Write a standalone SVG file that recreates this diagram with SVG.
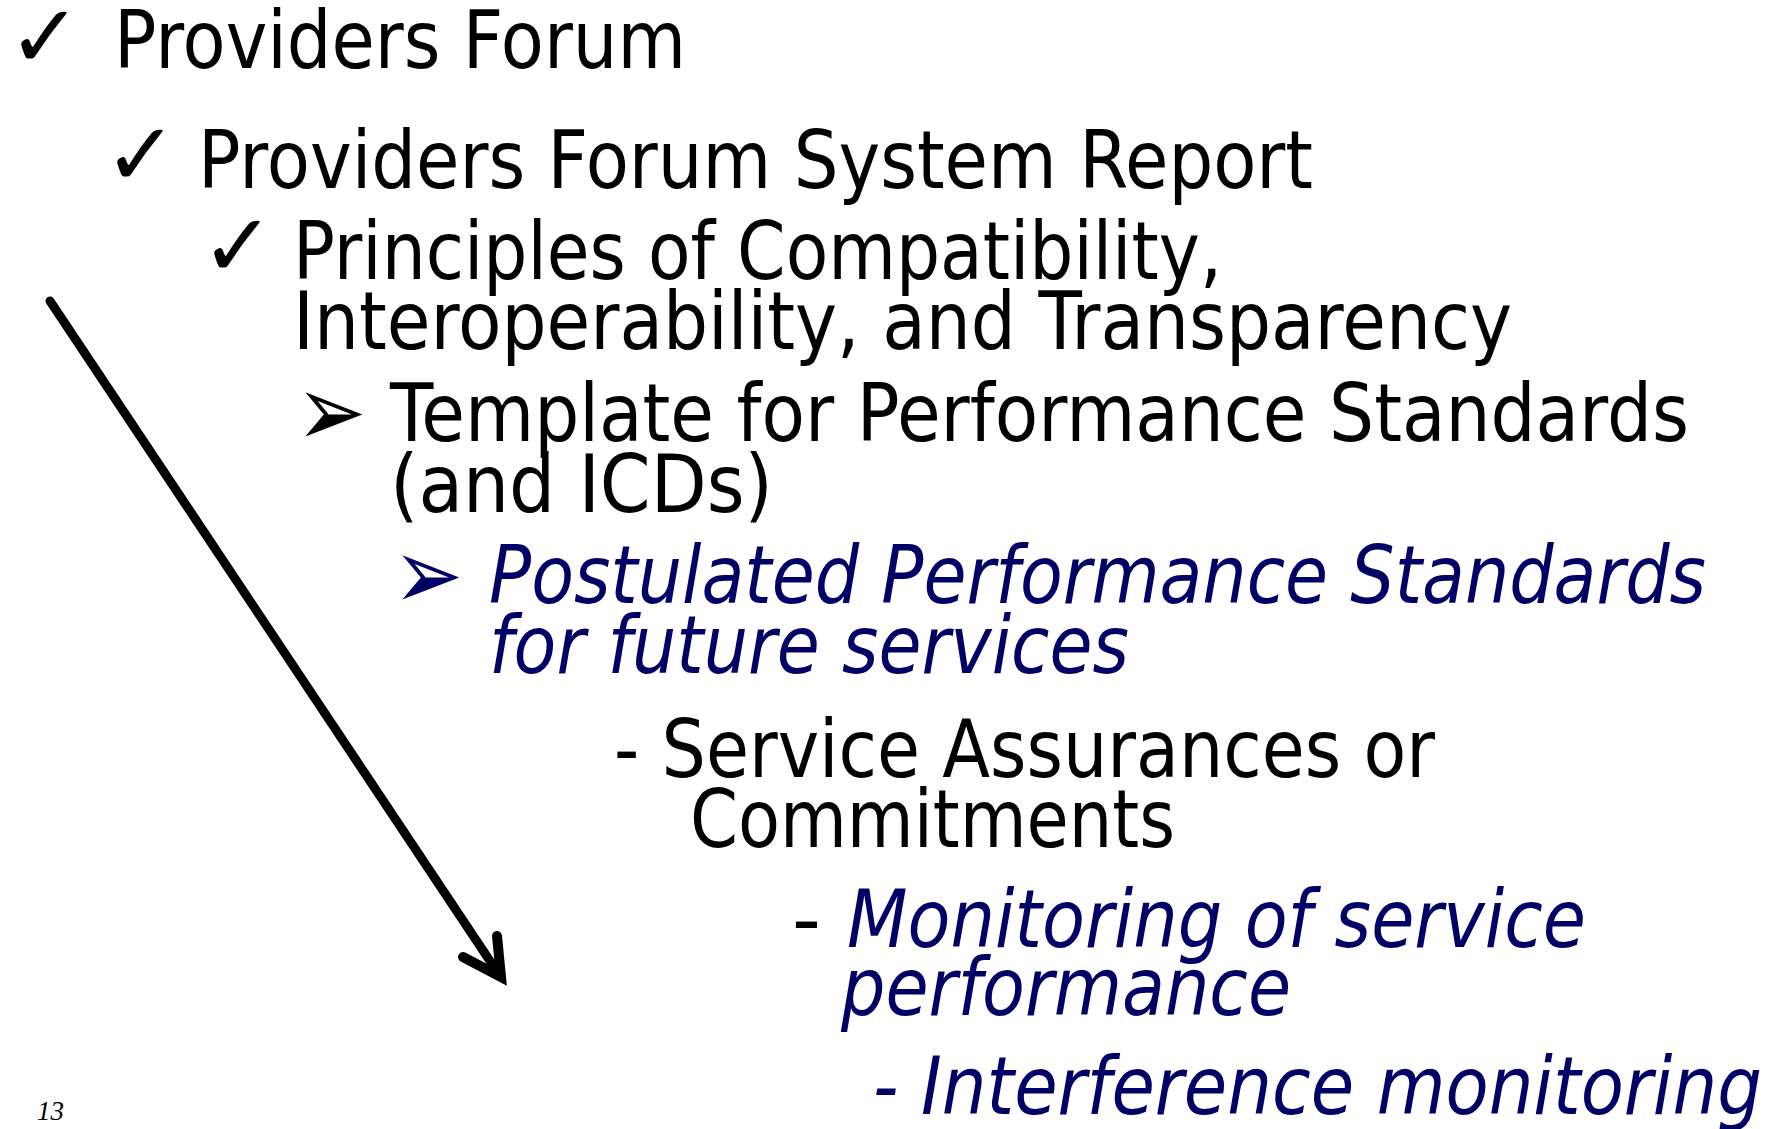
<svg xmlns="http://www.w3.org/2000/svg" width="1783" height="1129" viewBox="0 0 1783 1129">
<style>
.t{font-family:"DejaVu Sans","Liberation Sans",sans-serif;font-size:80px;fill:#000}
.n{font-family:"DejaVu Sans","Liberation Sans",sans-serif;font-size:80px;font-style:italic;fill:#000066}
.chk{font-family:"DejaVu Sans",sans-serif;font-size:88px;font-weight:bold;fill:#000}
.bul{font-family:"DejaVu Sans",sans-serif;font-size:84px}
.pg{font-family:"Liberation Serif",serif;font-style:italic;font-size:27px;fill:#000}
</style>
<rect width="1783" height="1129" fill="#fff"/>
<g id="connectors">
<line x1="50" y1="301" x2="500" y2="976" stroke="#000" stroke-width="9" stroke-linecap="round"/>
<polyline points="463,957 501,977 497,936" fill="none" stroke="#000" stroke-width="10" stroke-linecap="round" stroke-linejoin="miter"/>
</g>
<g id="item1">
<text class="chk" x="8" y="67">✓</text>
<text class="t" x="114" y="68" textLength="572" lengthAdjust="spacingAndGlyphs">Providers Forum</text>
</g>
<g id="item2">
<text class="chk" x="104" y="185">✓</text>
<text class="t" x="198" y="188" textLength="1115" lengthAdjust="spacingAndGlyphs">Providers Forum System Report</text>
</g>
<g id="item3">
<text class="chk" x="201" y="276">✓</text>
<text class="t" x="293" y="279" textLength="929" lengthAdjust="spacingAndGlyphs">Principles of Compatibility,</text>
<text class="t" x="293" y="349" textLength="1219" lengthAdjust="spacingAndGlyphs">Interoperability, and Transparency</text>
</g>
<g id="item4">
<text class="bul" x="296" y="447" fill="#000" transform="translate(0,-90) scale(1,1.2)" style="transform-box:view-box">➢</text>
<text class="t" x="390" y="441" textLength="1299" lengthAdjust="spacingAndGlyphs">Template for Performance Standards</text>
<text class="t" x="390" y="512" textLength="383" lengthAdjust="spacingAndGlyphs">(and ICDs)</text>
</g>
<g id="item5">
<text class="bul" x="393" y="609" fill="#000066" transform="translate(0,-122) scale(1,1.2)">➢</text>
<text class="n" x="489" y="603" textLength="1217" lengthAdjust="spacingAndGlyphs">Postulated Performance Standards</text>
<text class="n" x="489" y="673" textLength="640" lengthAdjust="spacingAndGlyphs">for future services</text>
</g>
<g id="item6">
<text class="t" x="614" y="777" textLength="821" lengthAdjust="spacingAndGlyphs">- Service Assurances or</text>
<text class="t" x="690" y="847" textLength="485" lengthAdjust="spacingAndGlyphs">Commitments</text>
</g>
<g id="item7">
<text class="t" x="792" y="947">-</text>
<text class="n" x="847" y="947" textLength="739" lengthAdjust="spacingAndGlyphs">Monitoring of service</text>
<text class="n" x="841" y="1015" textLength="450" lengthAdjust="spacingAndGlyphs">performance</text>
</g>
<g id="item8">
<text class="n" x="873" y="1114" textLength="889" lengthAdjust="spacingAndGlyphs">- Interference monitoring</text>
</g>
<g id="page">
<text class="pg" x="37" y="1120">13</text>
</g>
</svg>
